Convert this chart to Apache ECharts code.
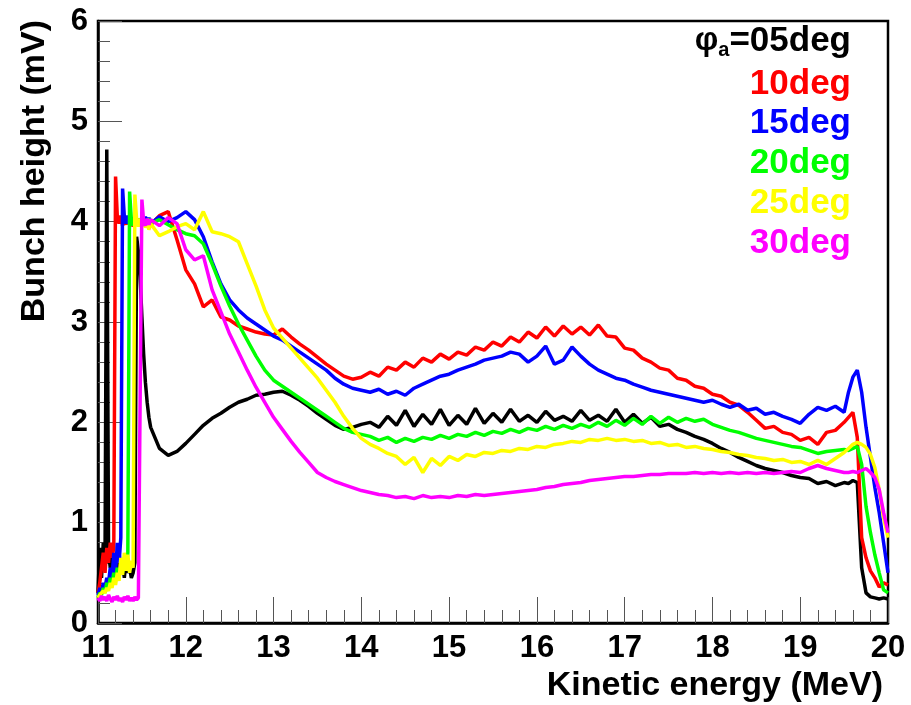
<!DOCTYPE html>
<html>
<head>
<meta charset="utf-8">
<script src="https://cdn.jsdelivr.net/npm/echarts@6/dist/echarts.min.js"></script>
<style>
html,body{margin:0;padding:0;background:#fff;}
#main{width:911px;height:705px;}
</style>
</head>
<body>
<div id="main"></div>
<script>
// Kinetic energy grid (MeV)
const energy = [
  11.00,11.02,11.04,11.06,11.08,11.10,11.12,11.14,11.16,11.18,
  11.20,11.22,11.24,11.26,11.28,11.30,11.32,11.34,11.36,11.38,
  11.40,11.42,11.44,11.46,11.48,11.50,11.52,11.54,11.56,11.58,
  11.60,
  11.7,11.8,11.9,12.0,12.1,12.2,12.3,12.4,12.5,12.6,
  12.7,12.8,12.9,13.0,13.1,13.2,13.3,13.4,13.5,13.6,
  13.7,13.8,13.9,14.0,
  14.1,14.2,14.3,14.4,14.5,14.6,14.7,14.8,14.9,15.0,
  15.1,15.2,15.3,15.4,15.5,15.6,15.7,15.8,15.9,16.0,
  16.1,16.2,16.3,16.4,16.5,16.6,16.7,16.8,16.9,17.0,
  17.1,17.2,17.3,17.4,17.5,17.6,17.7,17.8,17.9,18.0,
  18.1,18.2,18.3,18.4,18.5,18.6,18.7,18.8,18.9,19.0,
  19.1,19.2,19.3,19.4,19.5,
  19.55,19.6,19.65,19.7,19.75,19.8,19.85,19.9,19.95,20.0
];

// Bunch height (mV) for each phase
const deg05 = [
  0.30,0.75,0.45,0.80,0.60,4.72,0.70,0.55,0.75,0.50,
  0.65,0.45,0.70,0.50,0.60,0.45,0.65,0.50,0.55,0.45,
  0.50,0.60,3.85,3.70,3.45,3.05,2.68,2.40,2.20,2.05,
  1.95,
  1.74,1.67,1.71,1.79,1.88,1.97,2.04,2.09,2.15,2.20,
  2.23,2.27,2.28,2.30,2.31,2.27,2.22,2.16,2.09,2.03,
  1.97,1.93,1.95,1.98,
  2.00,1.95,2.06,1.97,2.12,1.96,2.08,1.98,2.13,1.97,
  2.07,1.98,2.14,1.99,2.09,2.00,2.13,2.01,2.07,2.00,
  2.11,2.02,2.06,2.01,2.12,2.02,2.07,2.01,2.13,2.00,
  2.08,1.99,2.05,1.96,1.98,1.93,1.90,1.86,1.83,1.79,
  1.74,1.70,1.65,1.61,1.57,1.54,1.52,1.50,1.47,1.45,
  1.44,1.39,1.41,1.37,1.40,
  1.39,1.42,1.40,0.55,0.30,0.26,0.25,0.24,0.25,0.24
];
const deg10 = [
  0.30,0.40,0.55,0.70,0.50,0.75,0.60,0.80,0.65,0.75,
  4.45,4.05,3.98,4.06,3.96,4.03,3.97,4.05,3.98,4.02,
  3.95,4.04,3.97,4.03,3.96,4.05,3.98,4.02,3.95,4.03,
  3.97,
  4.06,4.10,3.82,3.52,3.38,3.15,3.22,3.05,3.02,2.96,
  2.93,2.90,2.88,2.87,2.93,2.85,2.78,2.72,2.65,2.58,
  2.52,2.46,2.43,2.45,
  2.50,2.46,2.55,2.52,2.60,2.55,2.64,2.60,2.68,2.63,
  2.70,2.67,2.75,2.72,2.80,2.76,2.85,2.80,2.90,2.84,
  2.95,2.86,2.96,2.88,2.95,2.87,2.97,2.86,2.85,2.74,
  2.72,2.64,2.60,2.54,2.52,2.44,2.42,2.36,2.34,2.28,
  2.26,2.20,2.17,2.10,2.02,1.94,1.96,1.90,1.88,1.82,
  1.85,1.78,1.90,1.92,2.00,
  2.05,2.10,1.85,0.85,0.65,0.52,0.45,0.36,0.40,0.38
];
const deg15 = [
  0.28,0.35,0.30,0.40,0.35,0.45,0.40,0.55,0.45,0.70,
  0.50,0.80,0.60,0.85,4.33,4.05,3.98,4.06,3.97,4.04,
  3.96,4.05,3.98,4.03,3.97,4.02,3.96,4.05,3.99,4.04,
  3.98,
  4.05,4.00,4.04,4.10,4.02,3.85,3.60,3.38,3.22,3.12,
  3.04,2.98,2.92,2.86,2.82,2.76,2.70,2.64,2.58,2.52,
  2.44,2.38,2.34,2.32,
  2.30,2.33,2.28,2.31,2.27,2.34,2.38,2.42,2.46,2.48,
  2.52,2.55,2.58,2.62,2.64,2.66,2.70,2.68,2.60,2.66,
  2.76,2.58,2.62,2.75,2.66,2.58,2.52,2.48,2.44,2.42,
  2.38,2.35,2.32,2.30,2.28,2.26,2.24,2.22,2.20,2.22,
  2.18,2.15,2.18,2.12,2.14,2.08,2.10,2.06,2.03,1.99,
  2.08,2.15,2.12,2.16,2.10,
  2.30,2.45,2.52,2.30,1.95,1.65,1.35,1.10,0.80,0.50
];
const deg20 = [
  0.25,0.30,0.28,0.35,0.30,0.40,0.35,0.45,0.38,0.50,
  0.42,0.55,0.45,0.60,0.50,0.65,0.55,0.70,4.30,4.02,
  3.96,4.04,3.97,4.03,3.95,4.04,3.97,4.02,3.96,4.03,
  3.98,
  4.02,3.97,3.92,3.88,3.86,3.78,3.58,3.36,3.16,2.98,
  2.82,2.66,2.52,2.42,2.36,2.30,2.24,2.18,2.12,2.06,
  2.00,1.94,1.90,1.88,
  1.86,1.82,1.85,1.80,1.84,1.81,1.85,1.83,1.87,1.84,
  1.88,1.86,1.90,1.87,1.91,1.89,1.93,1.90,1.94,1.92,
  1.96,1.93,1.97,1.94,1.98,1.95,2.00,1.96,2.02,1.97,
  2.04,1.98,2.06,1.99,2.05,2.00,2.04,2.01,2.03,1.98,
  1.95,1.92,1.90,1.87,1.84,1.82,1.80,1.78,1.76,1.75,
  1.72,1.69,1.71,1.72,1.73,
  1.72,1.74,1.76,1.58,1.16,0.90,0.68,0.50,0.33,0.30
];
const deg25 = [
  0.25,0.28,0.30,0.32,0.30,0.35,0.32,0.40,0.35,0.45,
  0.38,0.50,0.42,0.65,0.48,0.70,0.52,0.68,0.50,0.62,
  0.55,4.27,4.02,3.95,4.03,3.96,4.02,3.94,4.00,3.92,
  3.98,
  3.86,3.90,3.95,3.98,3.92,4.10,3.90,3.88,3.85,3.80,
  3.58,3.36,3.12,2.94,2.84,2.74,2.64,2.54,2.44,2.32,
  2.20,2.06,1.94,1.84,
  1.78,1.74,1.69,1.66,1.58,1.65,1.50,1.64,1.57,1.66,
  1.62,1.68,1.66,1.70,1.69,1.72,1.71,1.74,1.73,1.76,
  1.75,1.78,1.79,1.81,1.80,1.83,1.82,1.84,1.82,1.83,
  1.81,1.82,1.79,1.80,1.77,1.78,1.75,1.76,1.74,1.73,
  1.71,1.70,1.68,1.67,1.65,1.64,1.62,1.63,1.60,1.61,
  1.58,1.62,1.58,1.64,1.70,
  1.74,1.78,1.80,1.78,1.75,1.68,1.55,1.33,1.05,0.85
];
const deg30 = [
  0.25,0.22,0.27,0.23,0.26,0.22,0.28,0.24,0.21,0.26,
  0.23,0.27,0.22,0.25,0.21,0.26,0.23,0.27,0.22,0.25,
  0.22,0.26,0.23,0.25,0.24,4.22,4.00,3.96,4.03,3.97,
  4.02,
  3.96,4.04,3.98,3.72,3.62,3.66,3.32,3.10,2.88,2.70,
  2.52,2.35,2.20,2.05,1.93,1.81,1.70,1.60,1.50,1.45,
  1.41,1.38,1.35,1.32,
  1.30,1.28,1.27,1.25,1.26,1.24,1.27,1.25,1.26,1.25,
  1.27,1.26,1.28,1.27,1.28,1.29,1.30,1.31,1.32,1.33,
  1.35,1.36,1.38,1.39,1.40,1.42,1.43,1.44,1.45,1.46,
  1.46,1.47,1.48,1.48,1.49,1.49,1.49,1.50,1.49,1.50,
  1.49,1.50,1.49,1.50,1.49,1.50,1.49,1.50,1.51,1.50,
  1.54,1.57,1.54,1.52,1.50,
  1.50,1.51,1.50,1.52,1.54,1.50,1.45,1.33,1.10,0.90
];

const seriesNames = ['05deg','10deg','15deg','20deg','25deg','30deg'];
const seriesValues = [deg05, deg10, deg15, deg20, deg25, deg30];
const seriesColors = ['#000000','#ff0000','#0000ff','#00ff00','#ffff00','#ff00ff'];
const legendLabels = ['=05deg','10deg','15deg','20deg','25deg','30deg'];

const FONT = '"Liberation Sans", Arial, Helvetica, sans-serif';

const chart = echarts.init(document.getElementById('main'), null, {renderer: 'canvas'});

const series = seriesValues.map((vals, k) => ({
  name: seriesNames[k],
  type: 'line',
  showSymbol: false,
  symbol: 'none',
  clip: true,
  lineStyle: {color: seriesColors[k], width: 3.5},
  itemStyle: {color: seriesColors[k]},
  data: energy.map((x, i) => [x, vals[i]])
}));

const legendY = [41, 84, 123, 163, 203, 243];
const graphics = [];
graphics.push({
  type: 'text', x: 851, y: legendY[0],
  style: {
    text: '{p|φ}{s|a}{n|' + legendLabels[0] + '}',
    align: 'right', verticalAlign: 'middle',
    rich: {
      p: {font: 'bold 33px ' + FONT, fill: '#000'},
      s: {font: 'bold 20px ' + FONT, fill: '#000', padding: [18, 0, 0, 0]},
      n: {font: 'bold 35px ' + FONT, fill: '#000'}
    }
  }
});
for (let k = 1; k < 6; k++) {
  graphics.push({
    type: 'text', x: 851, y: legendY[k],
    style: {text: legendLabels[k], align: 'right', verticalAlign: 'middle',
            font: 'bold 35px ' + FONT, fill: seriesColors[k]}
  });
}
graphics.push({
  type: 'text', x: 883, y: 686,
  style: {text: 'Kinetic energy (MeV)', align: 'right', verticalAlign: 'middle',
          font: 'bold 34px ' + FONT, fill: '#000'}
});
graphics.push({
  type: 'text', x: 35, y: 20, rotation: Math.PI / 2,
  style: {text: 'Bunch height (mV)', align: 'right', verticalAlign: 'middle',
          font: 'bold 34px ' + FONT, fill: '#000'}
});

chart.setOption({
  animation: false,
  backgroundColor: '#ffffff',
  grid: {left: 98, right: 23, top: 21, bottom: 82, show: true,
         borderColor: '#000', borderWidth: 2.5, backgroundColor: 'transparent'},
  xAxis: {
    type: 'value', min: 11, max: 20, interval: 1,
    axisLine: {show: true, lineStyle: {color: '#000', width: 2.5}},
    axisTick: {show: true, inside: true, length: 26, lineStyle: {color: '#555', width: 1}},
    minorTick: {show: true, splitNumber: 5, length: 13, lineStyle: {color: '#555', width: 1}},
    splitLine: {show: false},
    axisLabel: {color: '#000', fontSize: 31, fontWeight: 'bold', fontFamily: FONT, margin: 10}
  },
  yAxis: {
    type: 'value', min: 0, max: 6, interval: 1,
    axisLine: {show: true, lineStyle: {color: '#000', width: 2.5}},
    axisTick: {show: true, inside: true, length: 24, lineStyle: {color: '#555', width: 1}},
    minorTick: {show: true, splitNumber: 5, length: 12, lineStyle: {color: '#555', width: 1}},
    splitLine: {show: false},
    axisLabel: {color: '#000', fontSize: 31, fontWeight: 'bold', fontFamily: FONT, margin: 10}
  },
  series: series,
  graphic: graphics
});
</script>
</body>
</html>
